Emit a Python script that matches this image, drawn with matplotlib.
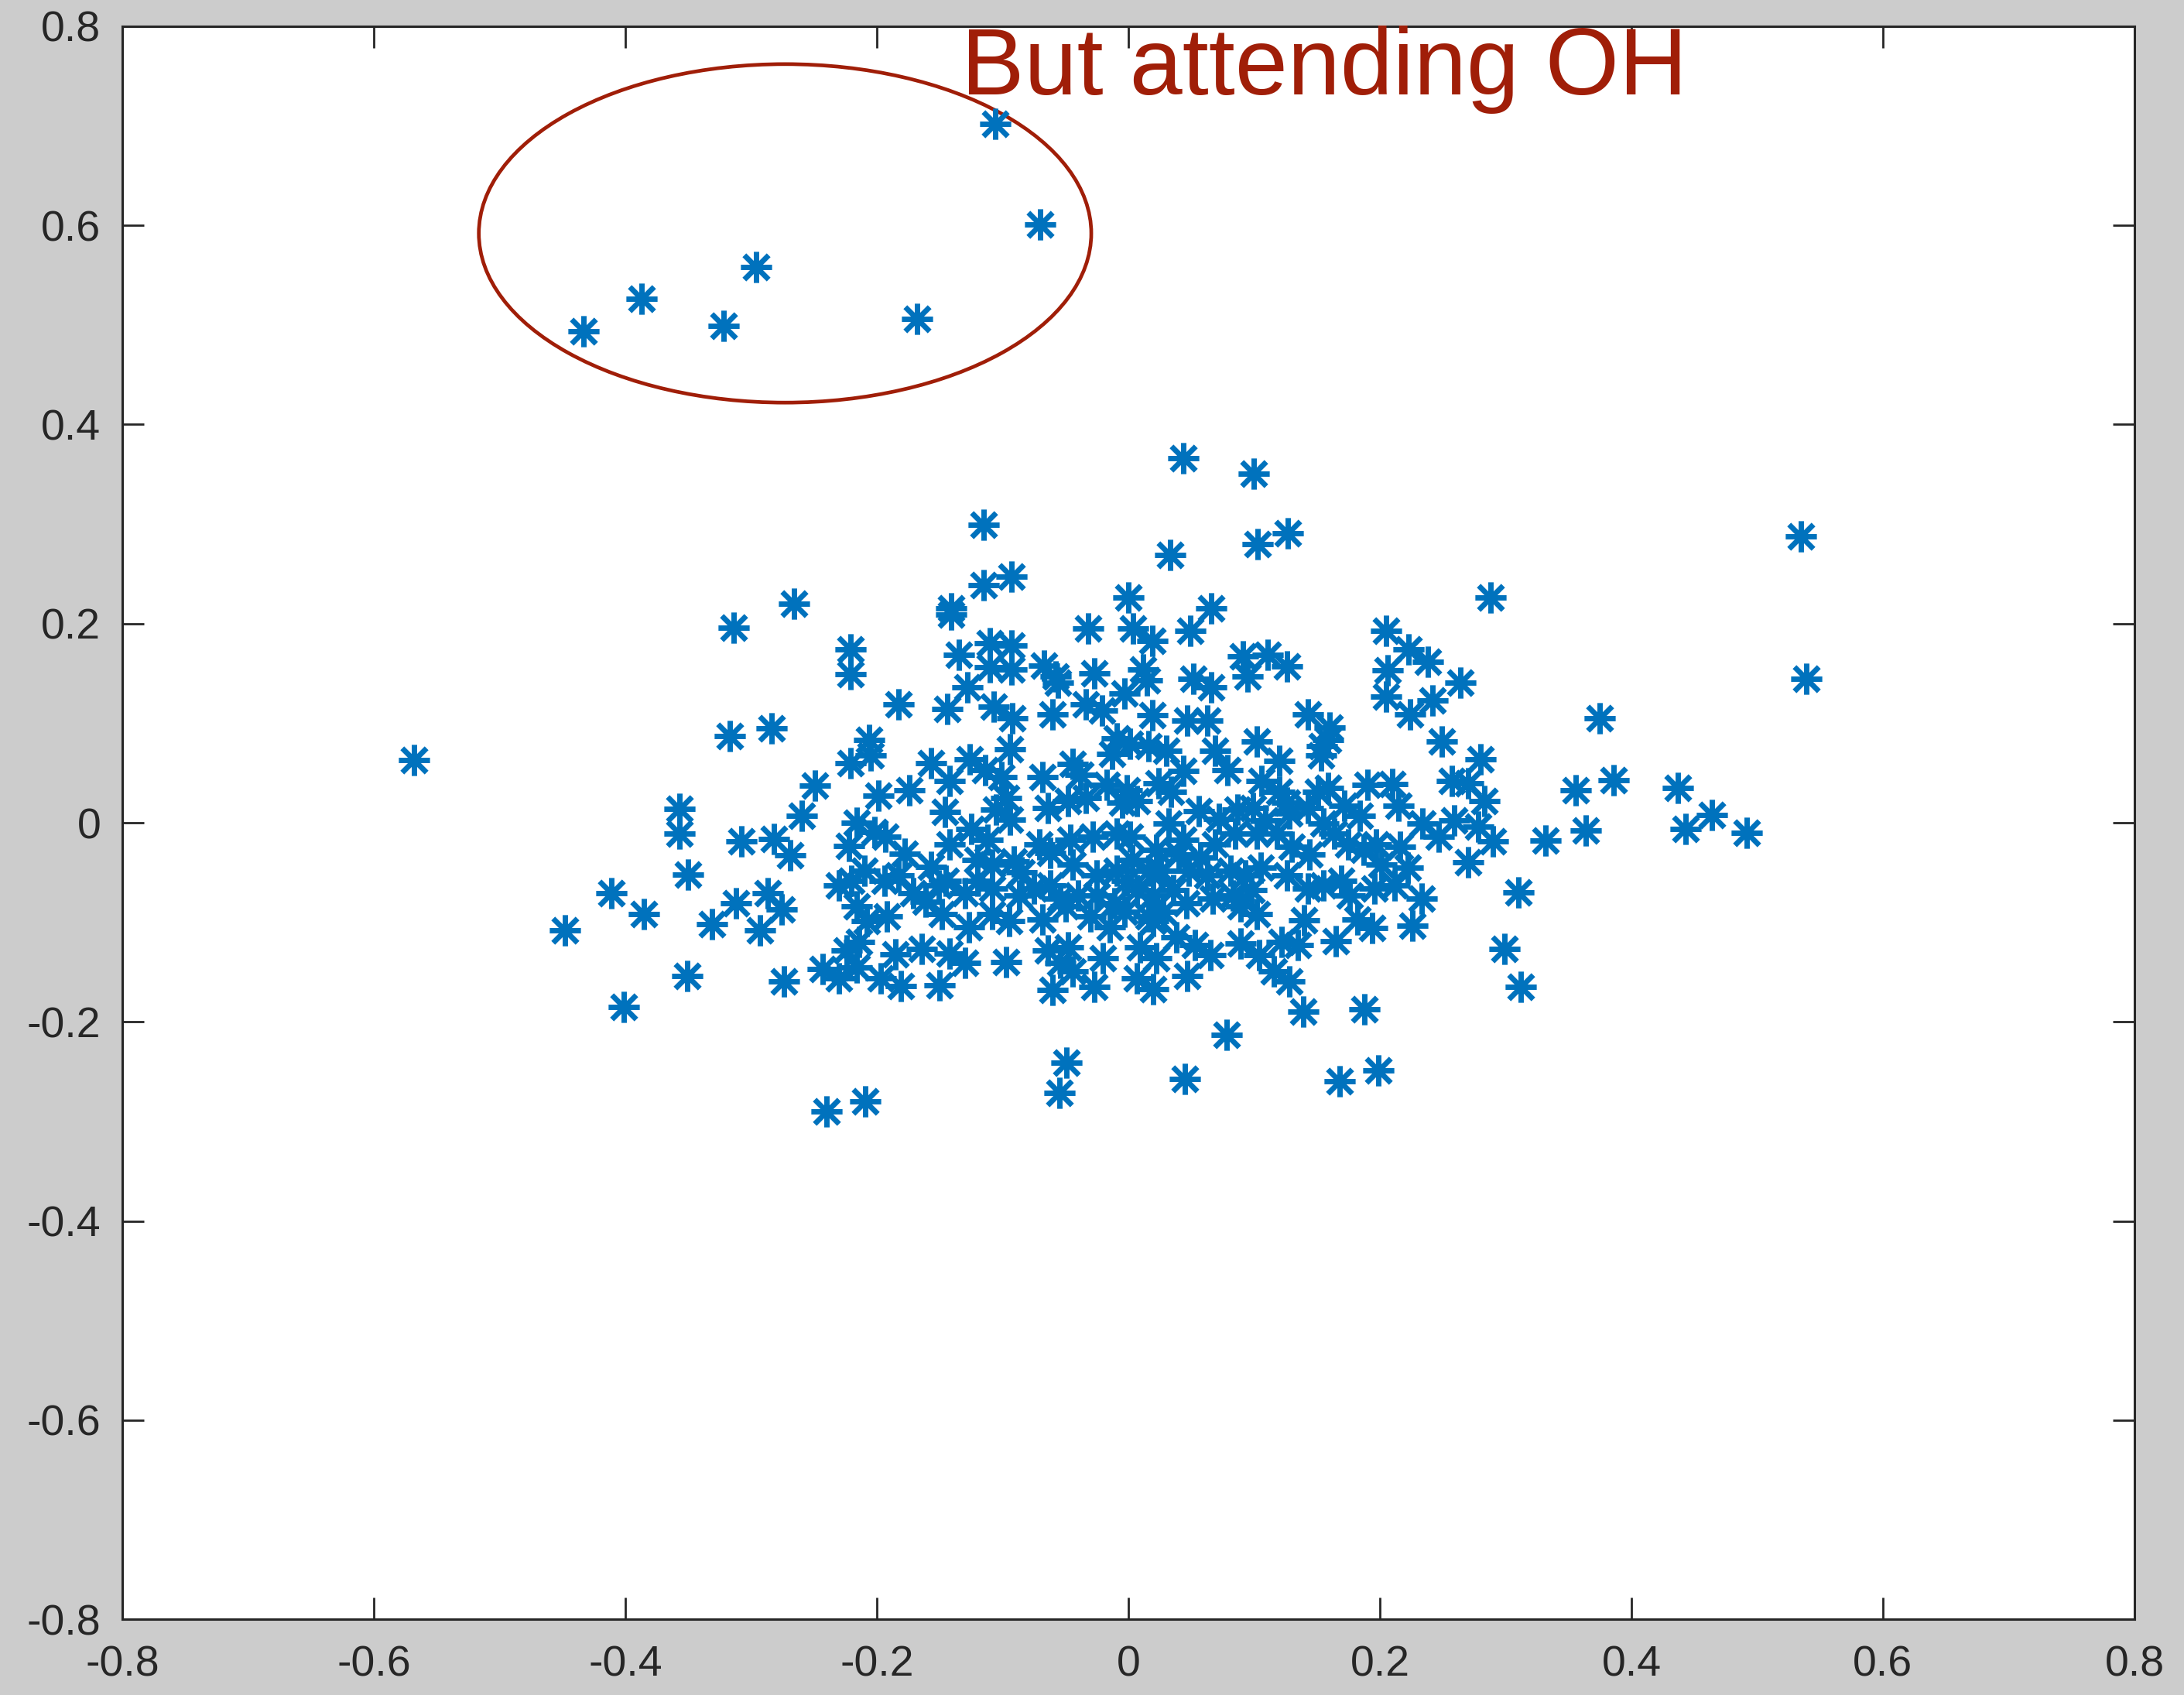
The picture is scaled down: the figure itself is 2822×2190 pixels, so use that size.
import numpy as np
import matplotlib
matplotlib.use("Agg")
from matplotlib import pyplot as plt
from matplotlib.patches import Ellipse
from matplotlib.path import Path

# main cloud of points (x, y)
cloud = [
    # left / lower-left part of the cloud
    (-0.206, 0.083), (-0.221, 0.060), (-0.205, 0.068), (-0.249, 0.037), (-0.199, 0.027),
    (-0.174, 0.033), (-0.157, 0.060), (-0.142, 0.042), (-0.126, 0.064), (-0.114, 0.053),
    (-0.094, 0.074), (-0.101, 0.046), (-0.097, 0.025), (-0.105, 0.013), (-0.094, 0.003),
    (-0.146, 0.011), (-0.068, 0.046), (-0.044, 0.059), (-0.038, 0.048), (-0.013, 0.069),
    (-0.009, 0.085), (-0.064, 0.015), (-0.048, 0.022), (-0.034, 0.025), (-0.017, 0.038),
    (-0.005, 0.020),
    (-0.216, 0.000), (-0.202, -0.009), (-0.193, -0.014), (-0.222, -0.023), (-0.178, -0.031),
    (-0.142, -0.022), (-0.125, -0.006), (-0.112, -0.017), (-0.157, -0.044), (-0.120, -0.037),
    (-0.108, -0.042), (-0.091, -0.039), (-0.085, -0.050), (-0.071, -0.022), (-0.062, -0.030),
    (-0.046, -0.017), (-0.028, -0.014), (-0.009, -0.011), (-0.044, -0.042), (-0.025, -0.053),
    (-0.009, -0.048),
    (-0.220, -0.058), (-0.230, -0.063), (-0.210, -0.048), (-0.194, -0.058), (-0.183, -0.053),
    (-0.171, -0.071), (-0.216, -0.084), (-0.192, -0.094), (-0.208, -0.099), (-0.151, -0.063),
    (-0.145, -0.058), (-0.130, -0.071), (-0.161, -0.079), (-0.148, -0.092), (-0.120, -0.058),
    (-0.108, -0.066), (-0.087, -0.073), (-0.075, -0.066), (-0.062, -0.063), (-0.054, -0.076),
    (-0.040, -0.073), (-0.025, -0.073), (-0.011, -0.081), (-0.108, -0.092), (-0.095, -0.099),
    (-0.068, -0.097), (-0.050, -0.084), (-0.030, -0.094), (-0.015, -0.105), (-0.127, -0.105),
    (-0.224, -0.128), (-0.214, -0.120), (-0.185, -0.132), (-0.164, -0.127), (-0.142, -0.131),
    (-0.130, -0.141), (-0.243, -0.147), (-0.230, -0.156), (-0.216, -0.145), (-0.197, -0.156),
    (-0.181, -0.164), (-0.150, -0.163), (-0.097, -0.140), (-0.064, -0.128), (-0.048, -0.125),
    (-0.054, -0.141), (-0.044, -0.149), (-0.020, -0.136), (-0.060, -0.168), (-0.027, -0.165),
    # right part of the cloud
    (0.102, 0.082), (0.120, 0.062), (0.153, 0.068), (0.159, 0.083), (0.249, 0.082),
    (0.257, 0.042), (0.270, 0.040), (0.069, 0.072), (0.079, 0.053), (0.044, 0.052),
    (0.030, 0.072), (0.016, 0.077), (0.001, 0.079), (0.024, 0.040), (0.034, 0.031),
    (-0.001, 0.033), (0.007, 0.022),
    (0.106, 0.042), (0.120, 0.031), (0.126, 0.020), (0.151, 0.031), (0.159, 0.035),
    (0.190, 0.038), (0.210, 0.039), (0.215, 0.017), (0.234, -0.001), (0.247, -0.014),
    (0.259, 0.002),
    (0.056, 0.012), (0.072, 0.004), (0.087, 0.013), (0.099, 0.015), (0.109, 0.002),
    (0.128, 0.009), (0.143, 0.015), (0.155, -0.001), (0.172, 0.017), (0.184, 0.007),
    (0.032, -0.001),
    (0.001, -0.014), (0.022, -0.027), (0.044, -0.017), (0.057, -0.035), (0.040, -0.032),
    (0.069, -0.022), (0.085, -0.011), (0.102, -0.011), (0.118, -0.011), (0.130, -0.024),
    (0.144, -0.032), (0.164, -0.011), (0.175, -0.022), (0.187, -0.027), (0.197, -0.022),
    (0.216, -0.024), (0.222, -0.045), (0.201, -0.042), (0.270, -0.040),
    (0.003, -0.037), (0.016, -0.048), (0.026, -0.048), (0.048, -0.048), (0.063, -0.053),
    (0.081, -0.048), (0.093, -0.053), (0.105, -0.045), (0.126, -0.053), (0.143, -0.066),
    (0.155, -0.063), (0.169, -0.058), (0.176, -0.073), (0.196, -0.066), (0.212, -0.063),
    (0.233, -0.076),
    (-0.001, -0.058), (0.007, -0.068), (0.020, -0.073), (0.036, -0.068), (0.046, -0.081),
    (0.067, -0.076), (0.083, -0.073), (0.098, -0.068), (0.102, -0.092), (0.089, -0.084),
    (-0.003, -0.089), (0.016, -0.094), (0.028, -0.089),
    (0.038, -0.115), (0.053, -0.123), (0.065, -0.133), (0.020, -0.099), (0.009, -0.125),
    (0.022, -0.136), (0.007, -0.156), (0.020, -0.167), (0.047, -0.154),
    (0.089, -0.121), (0.104, -0.133), (0.116, -0.149), (0.128, -0.159), (0.122, -0.120),
    (0.135, -0.123), (0.140, -0.098), (0.165, -0.119), (0.182, -0.097), (0.194, -0.106),
    (0.226, -0.103), (0.188, -0.187), (0.139, -0.190),
    # upper part of the cloud
    (-0.115, 0.239), (-0.093, 0.247), (0.000, 0.226), (0.066, 0.215), (-0.032, 0.195),
    (0.004, 0.195), (0.019, 0.183), (0.049, 0.193), (-0.266, 0.220), (-0.314, 0.196),
    (-0.141, 0.215), (-0.141, 0.209), (-0.135, 0.169), (-0.110, 0.180), (-0.093, 0.178),
    (-0.110, 0.156), (-0.093, 0.154), (-0.067, 0.158), (-0.058, 0.147), (-0.027, 0.150),
    (-0.056, 0.141), (-0.128, 0.136), (-0.144, 0.114), (-0.107, 0.117), (-0.092, 0.105),
    (-0.060, 0.109), (-0.034, 0.119), (-0.021, 0.113), (-0.003, 0.130), (0.012, 0.154),
    (0.052, 0.145), (0.066, 0.136), (0.019, 0.108), (0.047, 0.103), (0.063, 0.103),
    (-0.221, 0.174), (-0.221, 0.149), (-0.183, 0.119), (-0.317, 0.087), (-0.284, 0.095),
    (-0.260, 0.007), (-0.308, -0.019), (-0.282, -0.016), (-0.269, -0.033), (-0.350, -0.052),
    (-0.312, -0.081), (-0.287, -0.071), (-0.276, -0.087), (-0.331, -0.102), (-0.293, -0.108),
    (0.288, 0.226), (0.205, 0.193), (0.223, 0.174), (0.238, 0.162), (0.206, 0.153),
    (0.264, 0.141), (0.205, 0.127), (0.224, 0.109), (0.242, 0.123), (0.375, 0.105),
    (0.091, 0.167), (0.111, 0.169), (0.126, 0.157), (0.095, 0.147), (0.015, 0.143),
    (0.143, 0.109), (0.160, 0.096), (0.154, 0.077),
    (0.280, 0.064), (0.283, 0.022), (0.356, 0.033), (0.386, 0.043), (0.364, -0.008),
    (0.332, -0.018), (0.290, -0.019), (0.278, -0.004), (0.310, -0.070), (0.299, -0.127),
    # scattered outliers
    (-0.568, 0.063), (0.535, 0.288), (0.539, 0.145), (-0.448, -0.108), (-0.411, -0.071),
    (-0.401, -0.185), (-0.385, -0.092), (-0.357, 0.014), (-0.357, -0.011), (-0.351, -0.154),
    (-0.115, 0.299), (0.044, 0.366), (0.033, 0.269), (0.100, 0.351), (0.103, 0.280),
    (0.127, 0.291), (0.437, 0.035), (0.443, -0.006), (0.464, 0.008), (0.492, -0.010),
    (-0.240, -0.290), (-0.209, -0.280), (0.078, -0.213), (0.045, -0.257), (-0.049, -0.241),
    (-0.055, -0.271), (0.168, -0.260), (0.199, -0.249), (0.312, -0.165), (-0.274, -0.159),
]

# the separated group at the top
group_x = [-0.106, -0.070, -0.296, -0.387, -0.433, -0.322, -0.168]
group_y = [0.702, 0.601, 0.558, 0.526, 0.494, 0.499, 0.506]

ticks = [-0.8, -0.6, -0.4, -0.2, 0, 0.2, 0.4, 0.6, 0.8]
tick_labels = ["-0.8", "-0.6", "-0.4", "-0.2", "0", "0.2", "0.4", "0.6", "0.8"]
note = "But attending OH"

blue = "#0072BD"
red = "#A01E08"
dark = "#262626"

plt.rcParams["font.family"] = ["Liberation Sans", "DejaVu Sans"]

# asterisk: plus sign with slightly longer diagonal arms
d = 0.78
star = Path(
    [(0, -1), (0, 1), (-1, 0), (1, 0), (-d, -d), (d, d), (-d, d), (d, -d)],
    [Path.MOVETO, Path.LINETO] * 4,
)

fig = plt.figure(figsize=(14.11, 10.95), dpi=200, facecolor="#CCCCCC")
ax = fig.add_axes([0.056, 0.0447, 0.9213, 0.9398])
ax.set_facecolor("white")

pts = np.array(cloud)
xs = np.concatenate([pts[:, 0], group_x])
ys = np.concatenate([pts[:, 1], group_y])
ax.plot(xs, ys, linestyle="none", marker=star, markersize=14.5,
        markeredgewidth=2.5, color=blue)

# ring around the top group
ax.add_patch(Ellipse((-0.273, 0.592), 0.487, 0.340, fill=False,
                     edgecolor=red, linewidth=1.7))
ax.text(-0.133, 0.7316, note, color=red, fontsize=44, ha="left",
        va="baseline", clip_on=False)

ax.set_xlim(-0.8, 0.8)
ax.set_ylim(-0.8, 0.8)
ax.set_xticks(ticks)
ax.set_xticklabels(tick_labels)
ax.set_yticks(ticks)
ax.set_yticklabels(tick_labels)
ax.tick_params(direction="in", length=10, width=1.0, colors=dark,
               labelsize=20, top=True, right=True)
ax.tick_params(axis="x", pad=12)
ax.tick_params(axis="y", pad=10)
for s in ax.spines.values():
    s.set_color(dark)
    s.set_linewidth(1.1)

fig.savefig("out.png", dpi=200, facecolor=fig.get_facecolor())
